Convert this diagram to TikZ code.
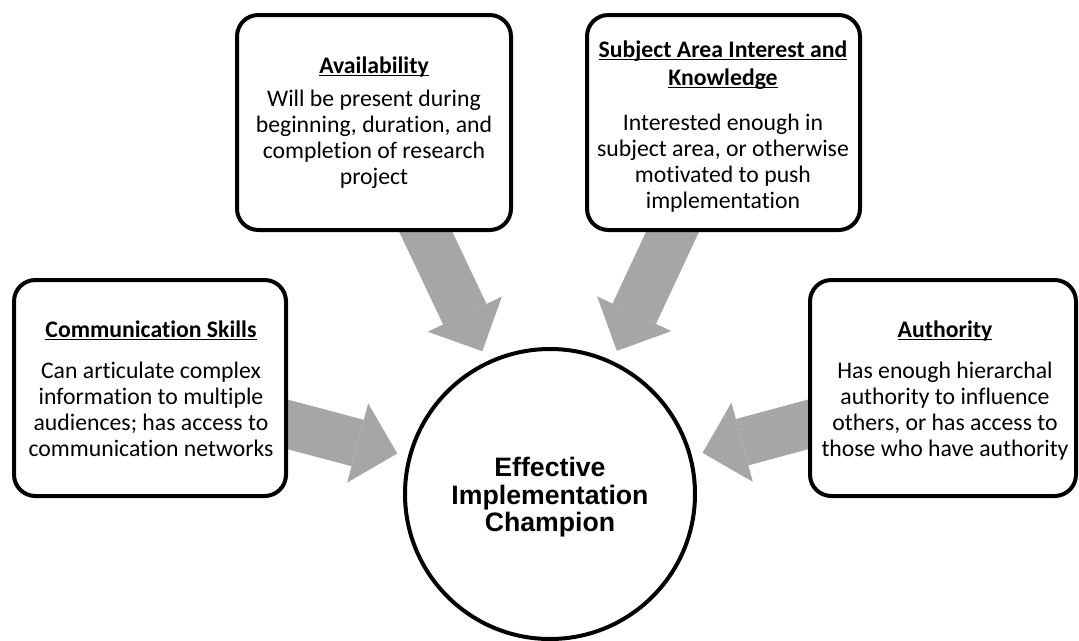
\documentclass[tikz,border=0pt]{standalone}
\usepackage{fontspec}
\setmainfont{Carlito}[Ligatures=NoCommon]
\newfontfamily\champfont{Liberation Sans}
\usetikzlibrary{arrows.meta,backgrounds}
\definecolor{arrowgray}{HTML}{A6A6A6}
% bold heading with a thin underline drawn at a fixed depth
\newcommand\hdr[1]{\leavevmode\setbox0\hbox{\bfseries #1}\rlap{\rule[-2.6pt]{\wd0}{1.1pt}}\box0}
\begin{document}
\begin{tikzpicture}[x=0.75pt,y=-0.75pt,
  card/.style={draw=black, line width=3pt, rounded corners=16pt, fill=white, inner sep=0pt},
  cardtext/.style={anchor=base, align=flush center, text width=204pt, inner sep=0pt,
    font=\fontsize{17.8pt}{19.5pt}\selectfont},
  hub/.style={circle, draw=black, line width=3pt, fill=white, minimum size=217.5pt, inner sep=0pt},
  hubtext/.style={anchor=base, align=flush center, text width=200pt, inner sep=0pt,
    font=\champfont\bfseries\fontsize{20pt}{20.6pt}\selectfont},
  feed/.style={draw=arrowgray, line width=36pt,
    -{Triangle[length=30.75pt,width=61.5pt,line width=0pt]},
    shorten >=8.25pt, shorten <=-30pt}
]
\useasboundingbox (0,0) rectangle (1079,640);

% the four qualities
\node[card, minimum width=204pt, minimum height=162pt] (comm) at (150,388) {};
\node[card, minimum width=205.5pt, minimum height=161.25pt] (avail) at (374,122.5) {};
\node[card, minimum width=204.75pt, minimum height=161.25pt] (subj) at (723.5,122.5) {};
\node[card, minimum width=199.5pt, minimum height=162pt] (auth) at (943,388) {};

% the champion
\node[hub] (champ) at (550,494) {};

\node[cardtext] (commtxt) at (151,337) {\hdr{Communication Skills}\\[11.25pt]
  Can articulate complex\\ information to multiple\\ audiences; has access to\\ communication networks};
\node[cardtext] (availtxt) at (374,73) {\hdr{Availability}\\[5.25pt]
  Will be present during\\ beginning, duration, and\\ completion of research\\ project};
\node[cardtext] (subjtxt) at (723,57) {\hdr{Subject Area Interest and}\\[1.5pt]\hdr{Knowledge}\\[14.25pt]
  Interested enough in\\ subject area, or otherwise\\ motivated to push\\ implementation};
\node[cardtext] (authtxt) at (945,337) {\hdr{Authority}\\[11.25pt]
  Has enough hierarchal\\ authority to influence\\ others, or has access to\\ those who have authority};

\node[hubtext] (champtxt) at (550,476.7) {Effective\\ Implementation\\ Champion};

% block arrows feeding into the champion, kept behind the boxes
\begin{scope}[on background layer]
  \fill[white] (0,0) rectangle (1079,640);
  \draw[feed] (comm) -- (champ);
  \draw[feed] (avail) -- (champ);
  \draw[feed] (subj) -- (champ);
  \draw[feed] (auth) -- (champ);
\end{scope}
\end{tikzpicture}
\end{document}
